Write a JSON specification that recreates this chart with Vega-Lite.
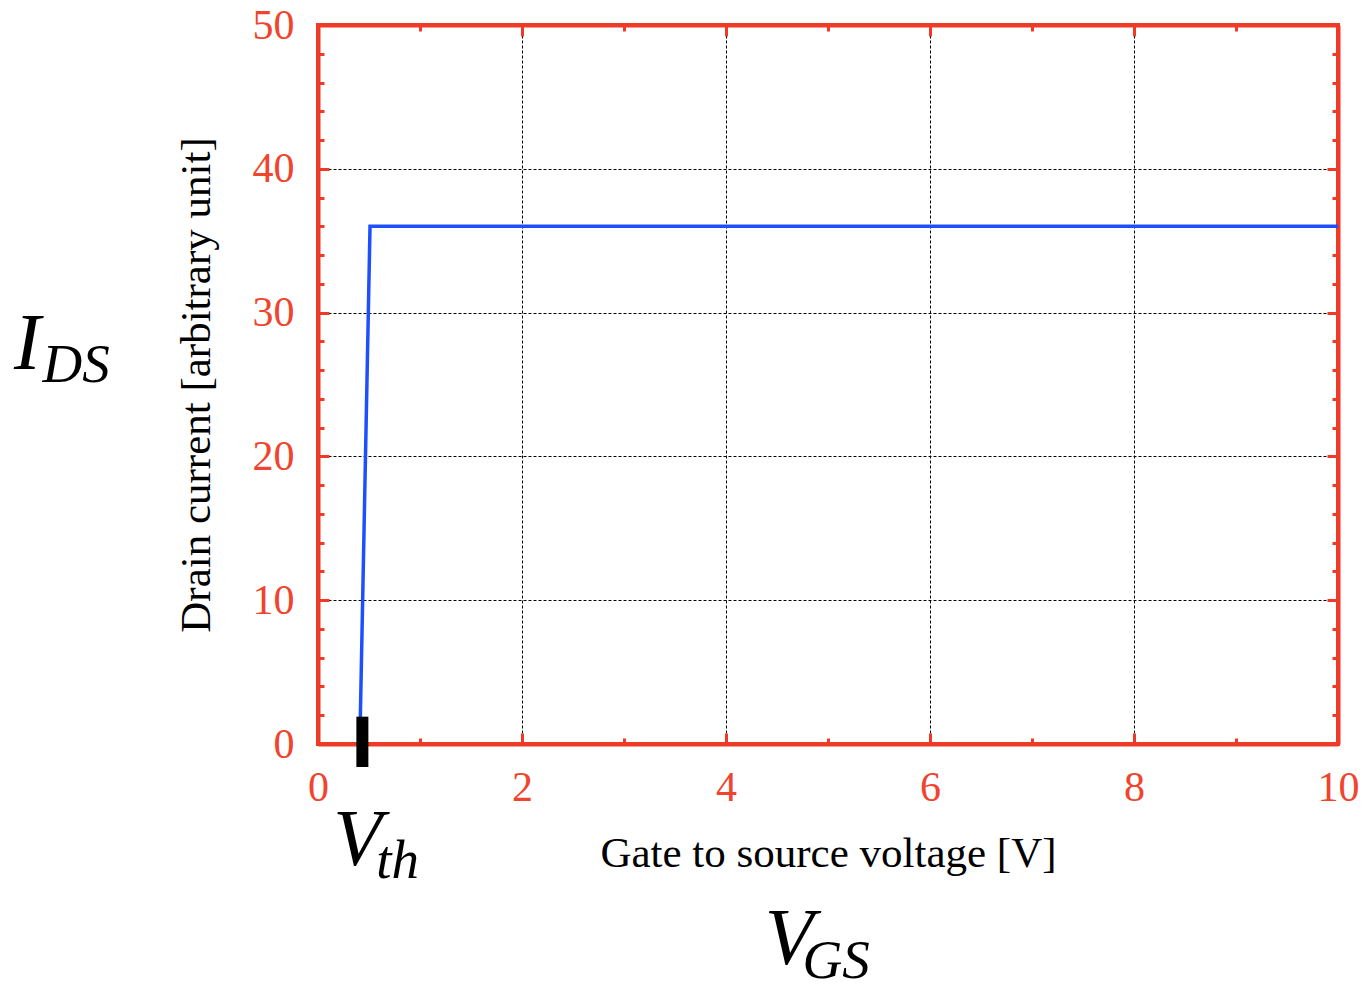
{
  "$schema": "https://vega.github.io/schema/vega-lite/v6.json",
  "width": 1020,
  "height": 719,
  "autosize": {"type": "none"},
  "padding": {"left": 318, "top": 25, "right": 26, "bottom": 241},
  "background": "white",
  "config": {
    "view": {"stroke": "#ee3a26", "strokeWidth": 4},
    "font": "Liberation Serif"
  },
  "datasets": {
    "curve": [
      {"vgs": 0.41, "ids": 0},
      {"vgs": 0.51, "ids": 36},
      {"vgs": 10, "ids": 36}
    ],
    "vth": [{"vgs": 0.435, "lo": -1.6, "hi": 1.9}],
    "big": [
      {"label": "I", "x": -2.98, "y": 26.1},
      {"label": "V", "x": 0.15, "y": -8.4},
      {"label": "V", "x": 4.38, "y": -15.3}
    ],
    "sub": [
      {"label": "DS", "x": -2.70, "y": 25.15},
      {"label": "th", "x": 0.57, "y": -9.3},
      {"label": "GS", "x": 4.75, "y": -16.3}
    ]
  },
  "resolve": {"axis": {"x": "independent", "y": "independent"}},
  "layer": [
    {
      "data": {"name": "curve"},
      "mark": {"type": "line", "color": "#1e4fff", "strokeWidth": 3.5, "clip": false},
      "encoding": {
        "x": {
          "field": "vgs", "type": "quantitative",
          "scale": {"domain": [0, 10], "nice": false, "zero": false},
          "axis": {
            "orient": "bottom",
            "values": [0,1,2,3,4,5,6,7,8,9,10],
            "title": "Gate to source voltage [V]",
            "titleFont": "Liberation Serif", "titleFontSize": 43, "titleFontWeight": "normal", "titleColor": "black",
            "titlePadding": 19,
            "labelExpr": "datum.value % 2 == 0 ? datum.label : ''",
            "labelFont": "Liberation Serif", "labelFontSize": 42, "labelColor": "#f0442e",
            "labelPadding": 34, "labelFlush": false, "labelOverlap": false,
            "domainColor": "#ee3a26", "domainWidth": 4,
            "tickColor": "#ee3a26", "tickWidth": 3,
            "tickSize": {"condition": {"test": "datum.value % 2 == 0", "value": -11}, "value": -6},
            "grid": true, "gridColor": "black", "gridWidth": 1, "gridDash": [3, 2],
            "gridOpacity": {"condition": {"test": "datum.value % 2 == 0", "value": 1}, "value": 0}
          }
        },
        "y": {
          "field": "ids", "type": "quantitative",
          "scale": {"domain": [0, 50], "nice": false, "zero": false},
          "axis": {
            "orient": "left",
            "values": [0,2,4,6,8,10,12,14,16,18,20,22,24,26,28,30,32,34,36,38,40,42,44,46,48,50],
            "title": "Drain current [arbitrary unit]",
            "titleFont": "Liberation Serif", "titleFontSize": 43, "titleFontWeight": "normal", "titleColor": "black",
            "titlePadding": 34,
            "labelExpr": "datum.value % 10 == 0 ? datum.label : ''",
            "labelFont": "Liberation Serif", "labelFontSize": 42, "labelColor": "#f0442e",
            "labelPadding": 35, "labelFlush": false, "labelOverlap": false,
            "domainColor": "#ee3a26", "domainWidth": 4,
            "tickColor": "#ee3a26", "tickWidth": 3,
            "tickSize": {"condition": {"test": "datum.value % 10 == 0", "value": -11}, "value": -6},
            "grid": true, "gridColor": "black", "gridWidth": 1, "gridDash": [3, 2],
            "gridOpacity": {"condition": {"test": "datum.value % 10 == 0", "value": 1}, "value": 0}
          }
        }
      }
    },
    {
      "data": {"name": "vth"},
      "mark": {"type": "rule", "color": "black", "strokeWidth": 12, "clip": false},
      "encoding": {
        "x": {
          "field": "vgs", "type": "quantitative",
          "axis": {
            "orient": "top",
            "values": [0,1,2,3,4,5,6,7,8,9,10],
            "title": null, "labels": false, "grid": false,
            "domainColor": "#ee3a26", "domainWidth": 4,
            "tickColor": "#ee3a26", "tickWidth": 3,
            "tickSize": {"condition": {"test": "datum.value % 2 == 0", "value": -11}, "value": -6}
          }
        },
        "y": {
          "field": "lo", "type": "quantitative",
          "axis": {
            "orient": "right",
            "values": [0,2,4,6,8,10,12,14,16,18,20,22,24,26,28,30,32,34,36,38,40,42,44,46,48,50],
            "title": null, "labels": false, "grid": false,
            "domainColor": "#ee3a26", "domainWidth": 4,
            "tickColor": "#ee3a26", "tickWidth": 3,
            "tickSize": {"condition": {"test": "datum.value % 10 == 0", "value": -11}, "value": -6}
          }
        },
        "y2": {"field": "hi"}
      }
    },
    {
      "data": {"name": "big"},
      "mark": {"type": "text", "font": "Liberation Serif", "fontStyle": "italic", "fontSize": 80, "align": "left", "baseline": "alphabetic", "color": "black", "clip": false},
      "encoding": {
        "x": {"field": "x", "type": "quantitative", "axis": null},
        "y": {"field": "y", "type": "quantitative", "axis": null},
        "text": {"field": "label"}
      }
    },
    {
      "data": {"name": "sub"},
      "mark": {"type": "text", "font": "Liberation Serif", "fontStyle": "italic", "fontSize": 55, "align": "left", "baseline": "alphabetic", "color": "black", "clip": false},
      "encoding": {
        "x": {"field": "x", "type": "quantitative", "axis": null},
        "y": {"field": "y", "type": "quantitative", "axis": null},
        "text": {"field": "label"}
      }
    }
  ]
}
